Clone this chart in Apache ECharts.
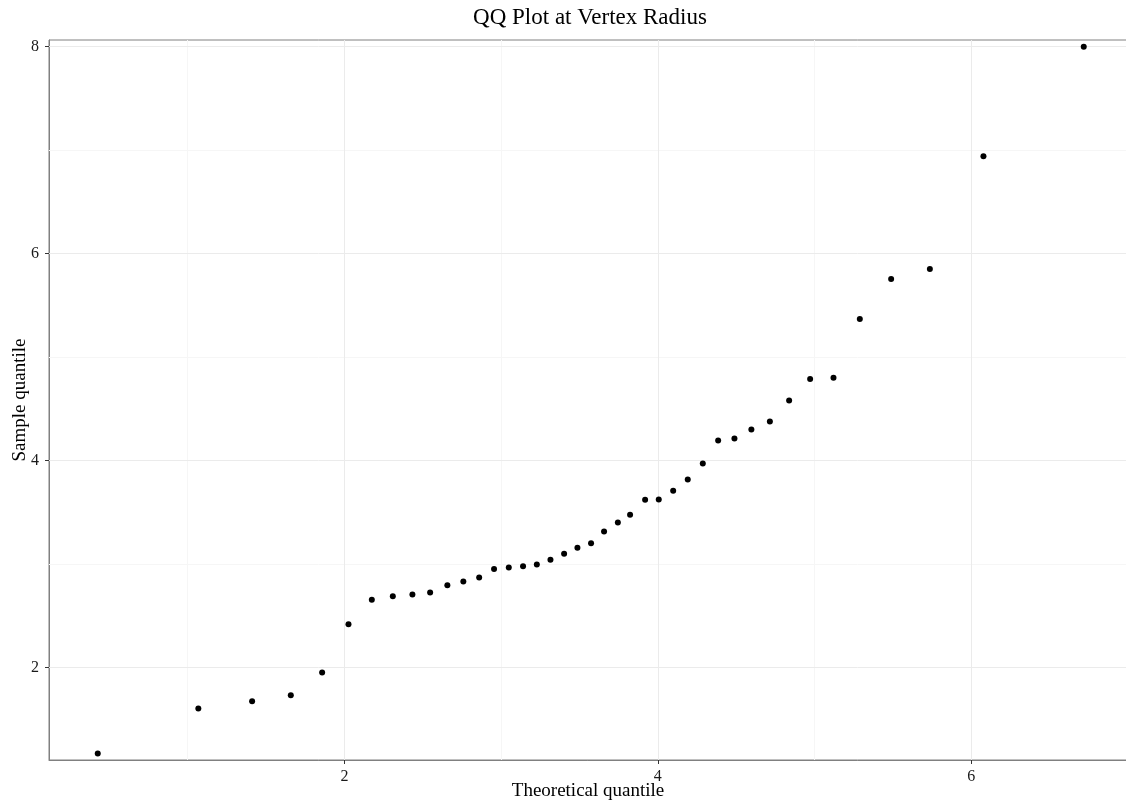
<!DOCTYPE html>
<html>
<head>
<meta charset="utf-8">
<script src="https://cdn.jsdelivr.net/npm/echarts@6/dist/echarts.min.js"></script>
<style>html,body{margin:0;padding:0;background:#fff;}#c{width:1126px;height:803px;}</style>
</head>
<body>
<div id="c"></div>
<script>
var theoretical = [0.426, 1.068, 1.411, 1.658, 1.858, 2.026, 2.175, 2.309, 2.434, 2.547, 2.657, 2.759, 2.860, 2.955, 3.049, 3.140, 3.228, 3.315, 3.402, 3.487, 3.574, 3.657, 3.745, 3.823, 3.919, 4.006, 4.098, 4.191, 4.287, 4.385, 4.489, 4.597, 4.715, 4.838, 4.972, 5.121, 5.289, 5.489, 5.736, 6.078, 6.718];
var sample = [1.171, 1.604, 1.674, 1.732, 1.952, 2.419, 2.655, 2.690, 2.706, 2.725, 2.796, 2.832, 2.870, 2.954, 2.967, 2.980, 2.996, 3.042, 3.100, 3.158, 3.202, 3.315, 3.402, 3.477, 3.622, 3.625, 3.709, 3.818, 3.973, 4.195, 4.215, 4.302, 4.379, 4.582, 4.788, 4.802, 5.368, 5.755, 5.852, 6.942, 8.0];
var xTicks = [2, 4, 6];
var yTicks = [2, 4, 6, 8];
var xMinor = [1, 3, 5];
var yMinor = [3, 5, 7];

var pts = theoretical.map(function (x, i) { return [x, sample[i]]; });
var FONT = '"Liberation Serif", "DejaVu Serif", serif';
var gridLines = [];
xMinor.forEach(function (v) { gridLines.push({ xAxis: v, lineStyle: { color: '#f6f6f6' } }); });
yMinor.forEach(function (v) { gridLines.push({ yAxis: v, lineStyle: { color: '#f6f6f6' } }); });
xTicks.forEach(function (v) { gridLines.push({ xAxis: v, lineStyle: { color: '#ebebeb' } }); });
yTicks.forEach(function (v) { gridLines.push({ yAxis: v, lineStyle: { color: '#ebebeb' } }); });

var chart = echarts.init(document.getElementById('c'), null, { renderer: 'canvas' });
chart.setOption({
  animation: false,
  backgroundColor: '#ffffff',
  title: {
    text: 'QQ Plot at Vertex Radius',
    left: 585,
    top: 1,
    textAlign: 'center',
    textStyle: { fontFamily: FONT, fontSize: 23, fontWeight: 'normal', color: '#000' }
  },
  grid: {
    left: 49, right: -1, top: 40, bottom: 43,
    containLabel: false,
    outerBoundsMode: 'none',
    show: true, borderColor: '#808080', borderWidth: 1, backgroundColor: 'transparent'
  },
  xAxis: {
    type: 'value',
    min: 0.115, max: 6.994,
    name: 'Theoretical quantile',
    nameLocation: 'middle',
    nameGap: 22,
    nameMoveOverlap: false,
    nameTextStyle: { fontFamily: FONT, fontSize: 19, color: '#000' },
    axisLine: { show: true, lineStyle: { color: '#808080', width: 1 } },
    axisTick: { show: true, customValues: xTicks, length: 4, lineStyle: { color: '#333' } },
    axisLabel: { customValues: xTicks, margin: 9, fontFamily: FONT, fontSize: 16, color: '#1a1a1a' },
    splitLine: { show: false }
  },
  yAxis: {
    type: 'value',
    min: 1.107, max: 8.065,
    name: 'Sample quantile',
    nameLocation: 'middle',
    nameGap: 19,
    nameMoveOverlap: false,
    nameTextStyle: { fontFamily: FONT, fontSize: 19, color: '#000' },
    axisLine: { show: true, lineStyle: { color: '#808080', width: 1 } },
    axisTick: { show: true, customValues: yTicks, length: 4, lineStyle: { color: '#333' } },
    axisLabel: { customValues: yTicks, margin: 10, fontFamily: FONT, fontSize: 16, color: '#1a1a1a' },
    splitLine: { show: false }
  },
  series: [
    {
      type: 'scatter',
      data: [],
      z: 1,
      silent: true,
      markLine: {
        silent: true,
        z: 1,
        symbol: 'none',
        label: { show: false },
        lineStyle: { type: 'solid', width: 1 },
        emphasis: { disabled: true },
        data: gridLines
      }
    },
    {
      type: 'scatter',
      data: pts,
      z: 3,
      symbol: 'circle',
      symbolSize: 6,
      itemStyle: { color: '#000', opacity: 1 }
    }
  ]
});
</script>
</body>
</html>
